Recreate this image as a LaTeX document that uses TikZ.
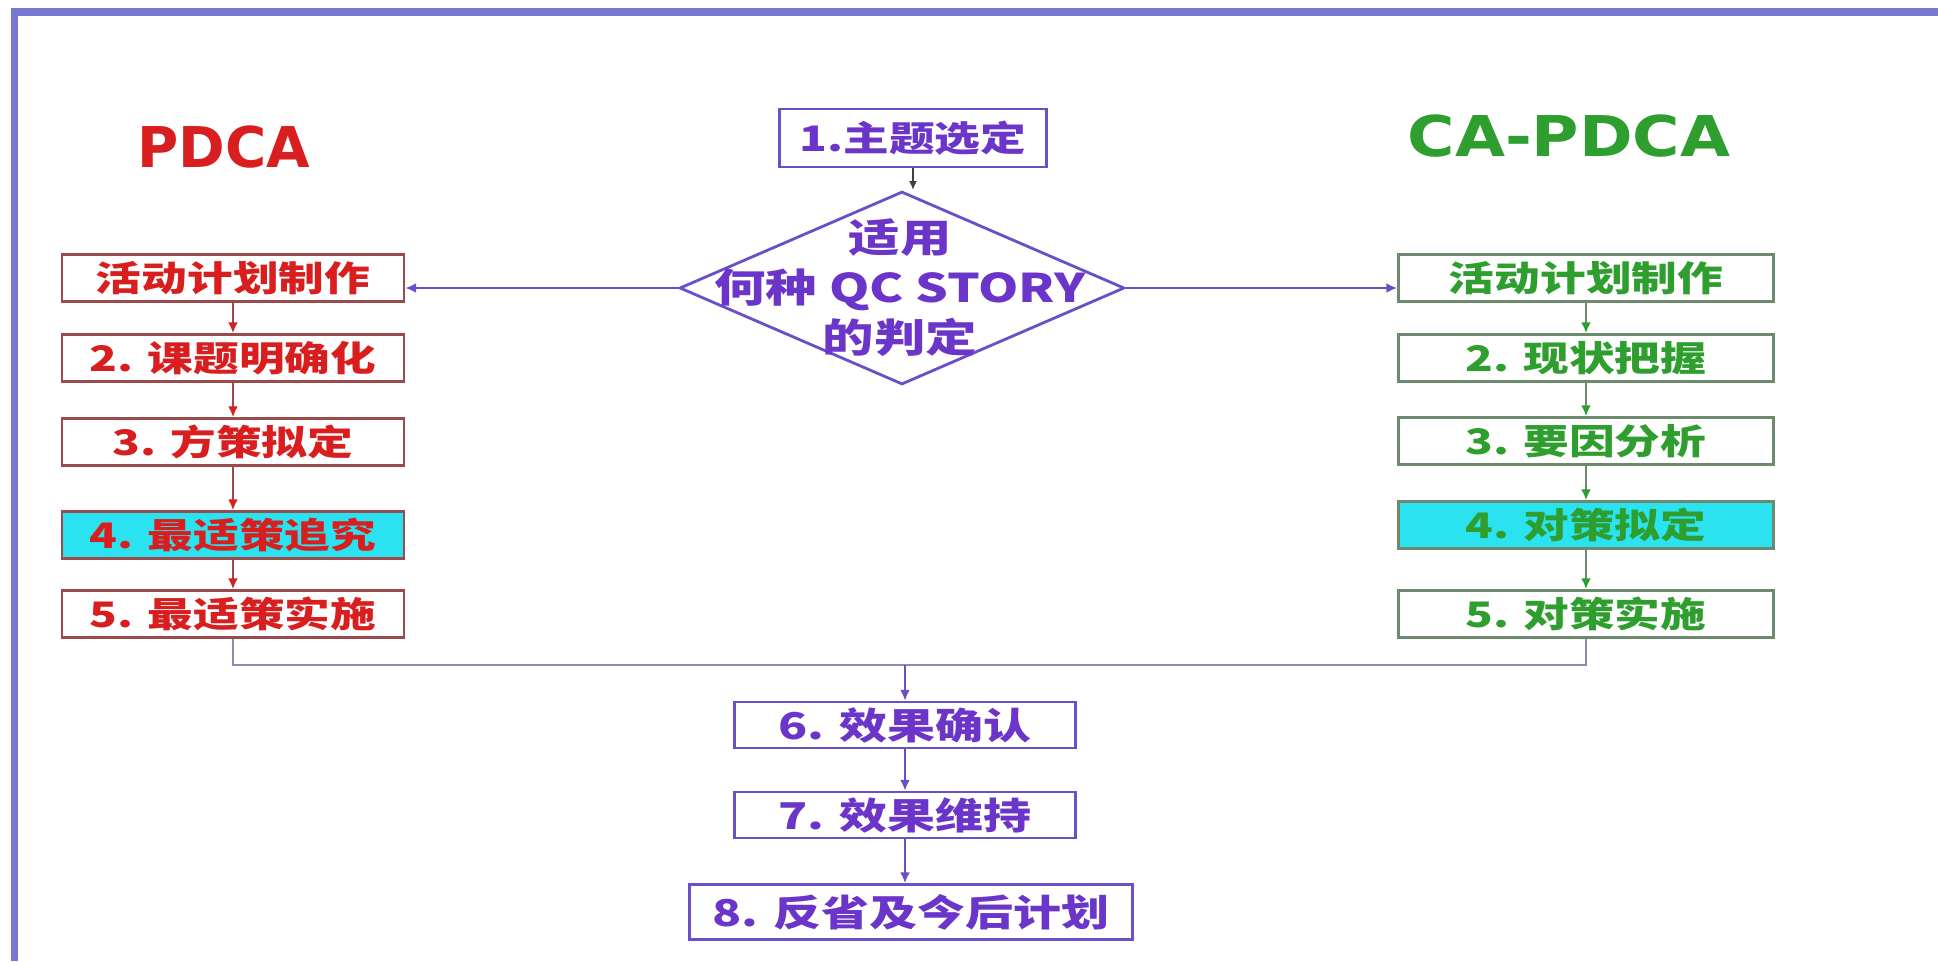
\documentclass[tikz,border=0pt]{standalone}
\usepackage{fontspec}
\usepackage{tikz}
\usetikzlibrary{shapes.geometric,arrows.meta}

\newfontfamily\cjk[FakeStretch=1.3]{Noto Sans CJK SC}
\newfontfamily\cjkdia[FakeStretch=1.3]{Noto Sans CJK SC}
\newfontfamily\titlefont{DejaVu Sans}
\newfontfamily\titlewide[FakeStretch=1.15]{DejaVu Sans}

\definecolor{framecol}{HTML}{7878D2}
\definecolor{pdcared}{HTML}{D81E1E}
\definecolor{redline}{HTML}{9B4B4B}
\definecolor{pdcagreen}{HTML}{2E9E2E}
\definecolor{greenline}{HTML}{6E8A6E}
\definecolor{qcpurple}{HTML}{6A35C8}
\definecolor{purpleline}{HTML}{6A4FC8}
\definecolor{mergecol}{HTML}{8A8AAA}
\definecolor{hilite}{HTML}{2BE3F0}

\begin{document}
\begin{tikzpicture}[x=0.02cm,y=-0.02cm]
        \tikzstyle{every node} = [rectangle, inner sep=0pt]
        \tikzstyle{boxfont} = [font=\cjk\bfseries\fontsize{20}{24}\selectfont]
        \tikzstyle{redbox} = [boxfont, draw=redline, line width=1.4pt, text=pdcared,
            minimum width=6.84cm, minimum height=0.94cm]
        \tikzstyle{greenbox} = [boxfont, draw=greenline, line width=1.4pt, text=pdcagreen,
            minimum width=7.5cm, minimum height=0.94cm]
        \tikzstyle{qcbox} = [font=\cjk\bfseries\fontsize{21}{25}\selectfont, draw=purpleline,
            line width=1.4pt, text=qcpurple, minimum width=6.82cm, minimum height=0.92cm]
        \tikzstyle{redarrow} = [draw=redline, line width=1.4pt, -{Latex[length=2.2mm,width=2mm,color=pdcared]}]
        \tikzstyle{greenarrow} = [draw=greenline, line width=1.4pt, -{Latex[length=2.2mm,width=2mm,color=pdcagreen]}]
        \tikzstyle{purplearrow} = [draw=purpleline, line width=1.4pt, -{Latex[length=2.2mm,width=2mm]}]

        \useasboundingbox (0,0) rectangle (1938,961);
        \draw[framecol, line width=0.15cm] (14.5,961) -- (14.5,12) -- (1938,12);

        % titles
        \node[font=\titlefont\bfseries\fontsize{32}{36}\selectfont, text=pdcared] (pdca) at (224,147) {PDCA};
        \node[font=\titlewide\bfseries\fontsize{32}{36}\selectfont, text=pdcagreen] (capdca) at (1569,136) {CA-PDCA};

        % start and judgement
        \node[qcbox, font=\cjk\bfseries\fontsize{20}{24}\selectfont, minimum width=5.34cm,
            minimum height=1.16cm] (topic) at (913,138) {1.主题选定};
        \node[diamond, draw=purpleline, line width=1.6pt, minimum width=8.9cm,
            minimum height=3.86cm] (judge) at (902,288) {};
        \node[font=\cjkdia\bfseries\fontsize{22.5}{28.5}\selectfont, text=qcpurple, align=center]
            (judgetxt) at (900,288) {适用\\何种 QC STORY\\的判定};

        % PDCA column
        \node[redbox] (L0) at (233,278) {活动计划制作};
        \node[redbox] (L2) at (233,358) {2. 课题明确化};
        \node[redbox] (L3) at (233,442) {3. 方策拟定};
        \node[redbox, fill=hilite] (L4) at (233,535) {4. 最适策追究};
        \node[redbox] (L5) at (233,614) {5. 最适策实施};

        % CA-PDCA column
        \node[greenbox] (R0) at (1586,278) {活动计划制作};
        \node[greenbox] (R2) at (1586,358) {2. 现状把握};
        \node[greenbox] (R3) at (1586,441) {3. 要因分析};
        \node[greenbox, fill=hilite] (R4) at (1586,525) {4. 对策拟定};
        \node[greenbox] (R5) at (1586,614) {5. 对策实施};

        % common steps
        \coordinate (merge) at (905,665);
        \node[qcbox] (eff) at (905,725) {6. 效果确认};
        \node[qcbox] (keep) at (905,815) {7. 效果维持};
        \node[qcbox, minimum width=8.86cm, minimum height=1.1cm] (plan) at (911,912) {8. 反省及今后计划};

        \draw[line width=1.2pt, draw=black!75, -{Latex[length=1.8mm,width=1.6mm]}] (topic) -- (topic |- judge.north);
        \draw[purplearrow] (judge.west) -- (judge.west -| L0.east);
        \draw[purplearrow] (judge.east) -- (judge.east -| R0.west);

        \foreach \from/\to in {L0/L2, L2/L3, L3/L4, L4/L5}
            \draw[redarrow] (\from) -- (\to);
        \foreach \from/\to in {R0/R2, R2/R3, R3/R4, R4/R5}
            \draw[greenarrow] (\from) -- (\to);

        \draw[mergecol, line width=1.6pt] (L5.south) |- (merge) -| (R5.south);
        \draw[purplearrow] (merge) -- (eff);
        \draw[purplearrow] (eff) -- (keep);
        \draw[purplearrow] (keep) -- (keep |- plan.north);
    \end{tikzpicture}
\end{document}
